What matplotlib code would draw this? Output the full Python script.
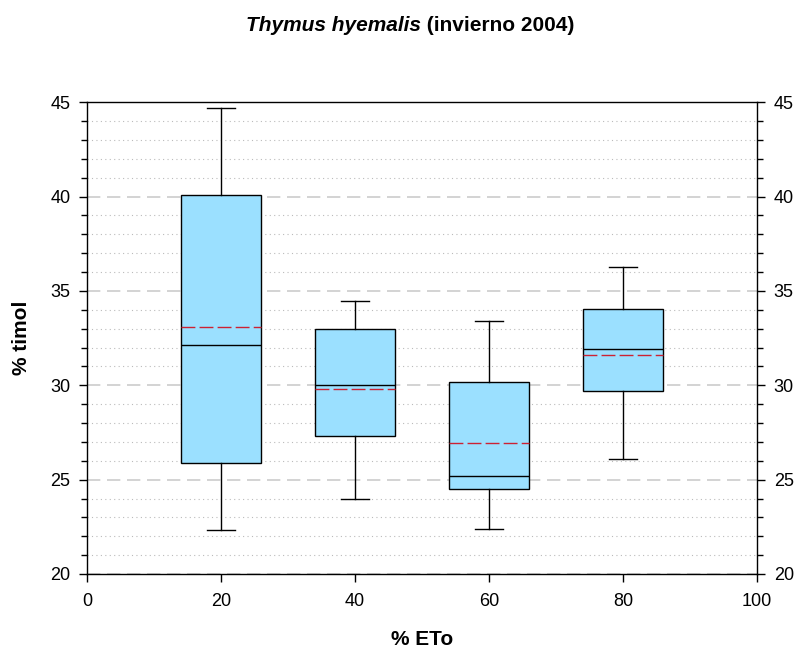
import matplotlib
matplotlib.use("Agg")
import matplotlib.pyplot as plt
from matplotlib.ticker import MultipleLocator

plt.rcParams['font.family'] = ['Liberation Sans', 'DejaVu Sans']

positions = [20, 40, 60, 80]
whisker_low = [22.35, 23.95, 22.4, 26.07]
q1 = [25.88, 27.33, 24.53, 29.71]
median = [32.16, 30.01, 25.17, 31.93]
mean = [33.1, 29.8, 26.94, 31.6]
q3 = [40.07, 32.98, 30.17, 34.04]
whisker_high = [44.68, 34.49, 33.43, 36.26]

title_italic = "Thymus hyemalis"
title_rest = " (invierno 2004)"
xlabel = "% ETo"
ylabel = "% timol"

fig = plt.figure(figsize=(7.97, 6.51), dpi=100)
ax = fig.add_axes([0.1092, 0.1183, 0.8406, 0.7246])

stats = []
for i in range(len(positions)):
    stats.append(dict(med=median[i], q1=q1[i], q3=q3[i],
                      whislo=whisker_low[i], whishi=whisker_high[i],
                      mean=mean[i], fliers=[]))

ax.bxp(stats, positions=positions, widths=12, patch_artist=True,
       showmeans=True, meanline=True, showfliers=False,
       boxprops=dict(facecolor='#9BE0FF', edgecolor='black', linewidth=1),
       medianprops=dict(color='black', linewidth=1),
       meanprops=dict(color='#cc2233', linestyle=(0, (10, 3)), linewidth=1),
       whiskerprops=dict(color='black', linewidth=1),
       capprops=dict(color='black', linewidth=1),
       capwidths=4.1, zorder=3)

ax.set_xlim(0, 100)
ax.set_ylim(20, 45)
ax.set_xticks([0, 20, 40, 60, 80, 100])
ax.set_xticklabels(['0', '20', '40', '60', '80', '100'])
ax.yaxis.set_major_locator(MultipleLocator(5))
ax.yaxis.set_minor_locator(MultipleLocator(1))

ax.grid(which='major', axis='y', color='#cccccc', linestyle=(0, (8, 4)), linewidth=1.2, zorder=0)
ax.grid(which='minor', axis='y', color='#bbbbbb', linestyle=(0, (1, 3)), linewidth=0.8, zorder=0)
ax.set_axisbelow(True)

ax.tick_params(axis='both', which='major', direction='out', length=6, width=1,
               labelsize=13, pad=6, left=True, right=True, labelright=True)
ax.tick_params(axis='y', which='minor', direction='out', length=4, width=1,
               left=True, right=True)
ax.tick_params(axis='x', which='major', length=6, pad=8)

for s in ax.spines.values():
    s.set_linewidth(1)

ax.set_xlabel(xlabel, fontsize=15, fontweight='bold', labelpad=14)
ax.set_ylabel(ylabel, fontsize=15, fontweight='bold', labelpad=14)

t1 = fig.text(0.5, 0.953, title_italic, fontsize=15, fontweight='bold',
              fontstyle='italic', ha='left', va='baseline')
t2 = ax.annotate(title_rest, xy=(1, 0), xycoords=t1, fontsize=15,
                 fontweight='bold', ha='left', va='bottom', annotation_clip=False)
fig.canvas.draw()
r = fig.canvas.get_renderer()
w1 = t1.get_window_extent(r).width
w2 = t2.get_window_extent(r).width
total = (w1 + w2) / fig.bbox.width
t1.set_x(0.5145 - total / 2)

fig.savefig('out.png', dpi=100)
